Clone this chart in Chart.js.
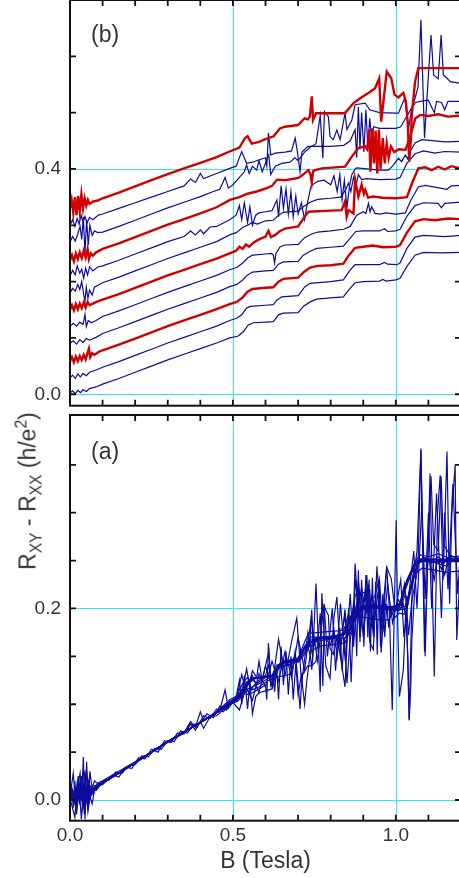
<!DOCTYPE html>
<html>
<head>
<meta charset="utf-8">
<script src="https://cdn.jsdelivr.net/npm/chart.js@4.4.1/dist/chart.umd.min.js"></script>
<style>
  html, body { margin: 0; padding: 0; background: #fff; overflow: hidden; }
  body { width: 459px; height: 878px; position: relative; font-family: "Liberation Sans", Arial, sans-serif; color: #333; }
  #top-wrap { position: absolute; left: 0; top: -2px; width: 462px; height: 410px; }
  #bottom-wrap { position: absolute; left: 0; top: 405px; width: 462px; height: 473px; }
  .panel-tag { position: absolute; left: 91px; font-size: 23px; line-height: 1; }
  #y-title { position: absolute; left: 28px; top: 491px; transform: translate(-50%, -50%) rotate(-90deg); white-space: nowrap; font-size: 23px; line-height: 1; }
  #y-title sub, #y-title sup { font-size: 68%; line-height: 0; }
</style>
</head>
<body>
<div id="top-wrap"><canvas id="chart-b" width="462" height="410"></canvas></div>
<div id="bottom-wrap"><canvas id="chart-a" width="462" height="473"></canvas></div>
<div class="panel-tag" style="top:23px">(b)</div>
<div class="panel-tag" style="top:440px">(a)</div>
<div id="y-title">R<sub>XY</sub> - R<sub>XX</sub> (h/e<sup>2</sup>)</div>
<script>
// B (Tesla) vs value as plotted in panel (b); panel (a) is the same data without the offsets
const traceOffsets = [0, 0.03, 0.06, 0.09, 0.12, 0.15, 0.18, 0.21, 0.24, 0.27, 0.30, 0.33];
const traceIsRed = [false, false, true, false, false, true, false, false, true, false, false, true];

const trace00 = [[0,.002],[.008,.006],[.016,.001],[.024,.007],[.032,.003],[.04,.008],[.05,.005],[.06,.01],[.08,.013],[.1,.018],[.15,.028],[.2,.039],[.25,.05],[.3,.061],[.35,.071],[.4,.081],[.45,.091],[.49,.1],[.515,.103],[.532,.111],[.547,.123],[.563,.127],[.6,.128],[.624,.129],[.64,.141],[.655,.144],[.7,.145],[.716,.156],[.737,.164],[.757,.169],[.8,.171],[.839,.173],[.855,.185],[.875,.198],[.9,.2],[.95,.201],[.96,.204],[.97,.201],[1.0,.203],[1.013,.206],[1.034,.227],[1.059,.247],[1.085,.252],[1.14,.251],[1.2,.252]];
const trace01 = [[0,.029],[.008,.034],[.016,.028],[.024,.036],[.032,.031],[.04,.037],[.05,.033],[.06,.039],[.08,.043],[.1,.048],[.15,.058],[.2,.069],[.25,.08],[.3,.091],[.35,.101],[.4,.111],[.45,.121],[.49,.131],[.512,.135],[.527,.141],[.542,.153],[.553,.156],[.6,.158],[.624,.159],[.635,.167],[.65,.173],[.7,.175],[.721,.191],[.737,.197],[.8,.2],[.839,.203],[.86,.221],[.875,.23],[.95,.23],[.965,.234],[.975,.231],[1.003,.23],[1.013,.233],[1.034,.259],[1.059,.279],[1.085,.282],[1.15,.28],[1.2,.282]];
const trace02 = [[0,.058],[.006,.066],[.012,.057],[.018,.067],[.024,.059],[.03,.068],[.036,.061],[.042,.07],[.048,.062],[.054,.074],[.058,.081],[.062,.066],[.068,.073],[.075,.07],[.09,.076],[.1,.078],[.15,.088],[.2,.099],[.25,.11],[.3,.121],[.35,.131],[.4,.141],[.45,.151],[.49,.16],[.512,.164],[.53,.172],[.545,.182],[.56,.187],[.6,.189],[.624,.19],[.64,.2],[.655,.205],[.7,.207],[.72,.218],[.737,.225],[.76,.228],[.8,.229],[.839,.232],[.855,.246],[.875,.26],[.9,.262],[.93,.264],[.96,.261],[1.0,.262],[1.013,.265],[1.034,.287],[1.059,.307],[1.085,.311],[1.12,.309],[1.16,.312],[1.2,.311]];
const trace03 = [[0,.09],[.01,.095],[.02,.089],[.03,.097],[.04,.092],[.05,.099],[.06,.096],[.08,.101],[.1,.108],[.15,.118],[.2,.129],[.25,.14],[.3,.151],[.35,.161],[.4,.171],[.45,.181],[.49,.191],[.512,.195],[.53,.203],[.545,.212],[.56,.217],[.6,.219],[.624,.22],[.64,.231],[.655,.235],[.7,.236],[.716,.247],[.737,.254],[.757,.259],[.8,.261],[.839,.263],[.857,.275],[.877,.289],[.9,.29],[.95,.29],[.965,.294],[.975,.289],[1.0,.29],[1.013,.293],[1.034,.316],[1.059,.335],[1.085,.34],[1.13,.339],[1.14,.331],[1.15,.339],[1.2,.341]];
const trace04 = [[0,.12],[.01,.126],[.02,.121],[.03,.128],[.04,.124],[.046,.142],[.05,.12],[.056,.131],[.065,.127],[.08,.131],[.1,.138],[.15,.148],[.2,.159],[.25,.17],[.3,.181],[.35,.191],[.4,.201],[.45,.211],[.49,.221],[.512,.225],[.53,.233],[.545,.242],[.56,.247],[.6,.249],[.618,.25],[.624,.247],[.628,.233],[.632,.25],[.645,.262],[.66,.265],[.7,.266],[.72,.278],[.74,.284],[.76,.288],[.8,.29],[.84,.293],[.86,.298],[.88,.318],[.9,.324],[.908,.321],[.916,.339],[.921,.324],[.926,.333],[.936,.321],[.952,.32],[.97,.322],[1.0,.32],[1.029,.322],[1.045,.343],[1.069,.368],[1.09,.371],[1.157,.364],[1.17,.37],[1.2,.371]];
const trace05 = [[0,.15],[.006,.158],[.012,.149],[.018,.16],[.024,.151],[.03,.161],[.036,.153],[.042,.163],[.048,.154],[.054,.164],[.06,.158],[.07,.161],[.085,.165],[.1,.168],[.15,.178],[.2,.189],[.25,.2],[.3,.211],[.35,.221],[.4,.231],[.45,.241],[.49,.25],[.51,.255],[.52,.262],[.53,.258],[.54,.266],[.55,.262],[.565,.27],[.58,.275],[.6,.28],[.609,.29],[.617,.279],[.63,.283],[.645,.29],[.66,.294],[.7,.298],[.72,.315],[.732,.324],[.8,.326],[.834,.327],[.844,.342],[.849,.315],[.855,.327],[.87,.321],[.875,.381],[.885,.351],[.895,.372],[.902,.356],[.906,.363],[.915,.349],[.93,.351],[.96,.349],[1.0,.348],[1.034,.35],[1.05,.375],[1.069,.401],[1.09,.403],[1.11,.398],[1.13,.404],[1.15,.399],[1.17,.405],[1.2,.401]];
const trace06 = [[0,.18],[.008,.188],[.016,.183],[.024,.195],[.03,.186],[.036,.2],[.042,.178],[.046,.165],[.05,.19],[.055,.17],[.06,.185],[.068,.176],[.075,.19],[.09,.195],[.1,.198],[.15,.208],[.2,.219],[.25,.23],[.3,.241],[.35,.251],[.4,.261],[.45,.271],[.49,.283],[.51,.287],[.53,.296],[.545,.3],[.56,.305],[.575,.302],[.6,.308],[.624,.309],[.64,.318],[.655,.323],[.7,.325],[.716,.333],[.737,.341],[.76,.346],[.8,.348],[.83,.35],[.845,.362],[.855,.375],[.862,.36],[.87,.385],[.878,.37],[.885,.39],[.895,.381],[.91,.383],[.95,.381],[1.0,.382],[1.013,.385],[1.034,.41],[1.059,.427],[1.085,.432],[1.12,.428],[1.15,.431],[1.2,.43]];
const trace07 = [[0,.21],[.008,.22],[.016,.212],[.022,.228],[.03,.215],[.036,.222],[.042,.206],[.048,.224],[.054,.212],[.06,.226],[.07,.219],[.085,.226],[.1,.228],[.15,.238],[.2,.249],[.25,.26],[.3,.271],[.35,.28],[.37,.29],[.385,.283],[.4,.292],[.41,.285],[.43,.297],[.45,.298],[.49,.31],[.51,.318],[.52,.335],[.527,.31],[.535,.34],[.545,.305],[.552,.333],[.56,.3],[.57,.318],[.58,.322],[.6,.324],[.62,.326],[.635,.345],[.64,.315],[.648,.37],[.655,.33],[.663,.365],[.67,.32],[.678,.36],[.685,.315],[.693,.352],[.7,.32],[.71,.34],[.72,.31],[.727,.335],[.74,.37],[.76,.378],[.78,.38],[.8,.372],[.81,.388],[.82,.36],[.828,.39],[.835,.345],[.842,.38],[.85,.332],[.858,.37],[.865,.39],[.875,.4],[.88,.402],[.95,.398],[.977,.398],[.99,.405],[1.008,.419],[1.018,.413],[1.029,.425],[1.036,.418],[1.044,.431],[1.059,.446],[1.08,.452],[1.12,.45],[1.15,.448],[1.2,.449]];
const trace08 = [[0,.238],[.006,.247],[.012,.236],[.018,.25],[.024,.24],[.03,.252],[.036,.242],[.042,.255],[.048,.243],[.054,.258],[.058,.24],[.064,.25],[.07,.246],[.08,.252],[.1,.258],[.15,.268],[.2,.279],[.25,.29],[.3,.301],[.35,.311],[.4,.321],[.45,.332],[.491,.345],[.52,.35],[.545,.356],[.573,.36],[.604,.366],[.62,.37],[.635,.381],[.66,.38],[.701,.384],[.715,.39],[.732,.398],[.738,.39],[.742,.376],[.746,.396],[.752,.398],[.773,.401],[.844,.404],[.865,.422],[.885,.437],[.906,.44],[.912,.435],[.918,.47],[.922,.395],[.928,.472],[.933,.41],[.938,.468],[.943,.392],[.948,.47],[.953,.4],[.96,.455],[.966,.41],[.972,.445],[.978,.42],[.985,.44],[.995,.43],[1.01,.435],[1.03,.434],[1.045,.46],[1.06,.49],[1.075,.496],[1.1,.494],[1.13,.497],[1.16,.493],[1.2,.495]];
const trace09 = [[0,.27],[.008,.28],[.016,.272],[.024,.285],[.031,.298],[.036,.275],[.041,.315],[.046,.25],[.051,.31],[.056,.265],[.061,.3],[.068,.282],[.075,.29],[.085,.287],[.1,.288],[.15,.298],[.2,.309],[.25,.32],[.3,.331],[.35,.341],[.4,.351],[.44,.36],[.46,.364],[.476,.385],[.486,.366],[.5,.372],[.52,.385],[.535,.395],[.542,.407],[.55,.392],[.56,.405],[.573,.398],[.58,.415],[.59,.395],[.6,.41],[.61,.425],[.616,.39],[.63,.405],[.65,.41],[.675,.412],[.69,.42],[.7,.415],[.72,.43],[.74,.44],[.8,.44],[.84,.442],[.86,.45],[.875,.47],[.88,.42],[.885,.51],[.89,.435],[.895,.5],[.902,.43],[.908,.505],[.914,.44],[.92,.49],[.926,.45],[.932,.475],[.95,.472],[1.0,.472],[1.015,.475],[1.03,.49],[1.045,.505],[1.06,.518],[1.075,.52],[1.1,.522],[1.118,.5],[1.125,.52],[1.14,.518],[1.15,.505],[1.16,.52],[1.2,.52]];
const trace10 = [[0,.3],[.008,.31],[.015,.298],[.022,.312],[.028,.302],[.034,.318],[.04,.305],[.046,.316],[.052,.304],[.06,.314],[.07,.31],[.087,.318],[.1,.32],[.15,.33],[.2,.34],[.25,.35],[.3,.36],[.35,.37],[.37,.382],[.385,.376],[.4,.392],[.41,.383],[.45,.392],[.49,.401],[.51,.405],[.527,.431],[.542,.41],[.56,.412],[.575,.415],[.6,.42],[.604,.405],[.609,.464],[.616,.425],[.63,.428],[.66,.43],[.68,.432],[.691,.455],[.698,.43],[.706,.395],[.712,.43],[.73,.44],[.742,.44],[.755,.445],[.768,.495],[.776,.419],[.781,.502],[.788,.496],[.793,.493],[.798,.458],[.808,.452],[.819,.469],[.829,.452],[.844,.499],[.85,.47],[.865,.487],[.875,.514],[.906,.517],[.92,.505],[.95,.5],[1.0,.499],[1.008,.499],[1.027,.526],[1.034,.496],[1.039,.472],[1.049,.508],[1.059,.526],[1.068,.545],[1.077,.665],[1.088,.455],[1.1,.567],[1.108,.638],[1.116,.567],[1.13,.56],[1.139,.638],[1.146,.567],[1.157,.561],[1.167,.555],[1.2,.552]];
const trace11 = [[0,.331],[.005,.345],[.01,.322],[.015,.35],[.02,.318],[.025,.352],[.03,.325],[.035,.355],[.04,.33],[.045,.348],[.05,.335],[.055,.345],[.06,.338],[.07,.342],[.085,.344],[.1,.348],[.15,.358],[.2,.369],[.25,.38],[.3,.391],[.35,.401],[.4,.411],[.45,.421],[.49,.431],[.52,.438],[.537,.455],[.545,.458],[.558,.445],[.58,.448],[.6,.453],[.625,.458],[.644,.472],[.66,.475],[.7,.478],[.72,.49],[.73,.488],[.736,.493],[.742,.529],[.746,.487],[.755,.499],[.8,.499],[.844,.499],[.87,.517],[.9,.529],[.916,.535],[.936,.543],[.949,.561],[.955,.484],[.962,.52],[.972,.573],[.986,.561],[.996,.532],[1.008,.527],[1.023,.535],[1.031,.52],[1.037,.478],[1.041,.413],[1.046,.45],[1.049,.496],[1.059,.555],[1.069,.579],[1.1,.579],[1.2,.579]];

// sweeps that only appear in panel (a), no offset
const extraA1 = [[0,.002],[.015,-.018],[.025,.025],[.035,-.02],[.045,.03],[.055,-.012],[.065,.012],[.08,.01],[.1,.019],[.12,.021],[.14,.029],[.16,.028],[.18,.036],[.2,.037],[.22,.046],[.24,.045],[.26,.054],[.28,.053],[.3,.062],[.32,.061],[.34,.072],[.36,.07],[.38,.079],[.4,.08],[.42,.09],[.44,.086],[.46,.098],[.48,.094],[.5,.103],[.53,.108],[.56,.13],[.58,.112],[.6,.14],[.62,.118],[.64,.168],[.66,.13],[.68,.165],[.696,.19],[.711,.122],[.73,.175],[.745,.15],[.755,.226],[.768,.113],[.773,.216],[.785,.14],[.798,.127],[.81,.19],[.819,.212],[.83,.15],[.844,.118],[.855,.2],[.863,.123],[.875,.247],[.89,.17],[.911,.235],[.92,.165],[.931,.157],[.942,.244],[.955,.18],[.972,.244],[.98,.2],[.989,.094],[1.001,.292],[1.006,.18],[1.011,.108],[1.023,.136],[1.032,.21],[1.041,.084],[1.05,.22],[1.065,.26],[1.077,.367],[1.085,.23],[1.09,.15],[1.1,.28],[1.105,.341],[1.112,.22],[1.118,.129],[1.128,.3],[1.136,.339],[1.145,.23],[1.157,.364],[1.165,.205],[1.172,.3],[1.182,.35],[1.187,.167],[1.2,.26]];
const extraA2 = [[0,.004],[.01,.028],[.02,-.015],[.03,.018],[.04,-.01],[.05,.032],[.06,0],[.075,.015],[.1,.016],[.13,.026],[.15,.024],[.17,.034],[.19,.033],[.21,.044],[.23,.043],[.25,.053],[.27,.05],[.29,.062],[.31,.06],[.33,.07],[.35,.069],[.37,.079],[.39,.076],[.41,.088],[.43,.085],[.45,.095],[.47,.092],[.5,.102],[.52,.094],[.54,.118],[.56,.104],[.58,.132],[.6,.118],[.62,.145],[.64,.124],[.66,.155],[.68,.128],[.7,.17],[.72,.135],[.74,.19],[.76,.145],[.78,.205],[.79,.15],[.805,.2],[.815,.135],[.83,.205],[.845,.145],[.86,.215],[.87,.16],[.885,.23],[.9,.17],[.915,.225],[.93,.175],[.95,.23],[.96,.175],[.975,.225],[.99,.185],[1.0,.2],[1.015,.23],[1.025,.17],[1.04,.215],[1.055,.26],[1.065,.2],[1.08,.31],[1.09,.21],[1.1,.3],[1.11,.2],[1.125,.32],[1.14,.19],[1.15,.3],[1.16,.22],[1.175,.33],[1.19,.215],[1.2,.27]];

const traces = [trace00, trace01, trace02, trace03, trace04, trace05, trace06, trace07, trace08, trace09, trace10, trace11];
const extraTracesA = [extraA1, extraA2];

// axis ticks (inward marks) and labelled values
const xTickMarks = [0.1, 0.2, 0.3, 0.4, 0.5, 0.6, 0.7, 0.8, 0.9, 1.0, 1.1];
const xTickLabels = [0, 0.5, 1.0];
const yTickMarksB = [0, 0.1, 0.2, 0.3, 0.4, 0.5, 0.6];
const yTickLabelsB = [0, 0.4];
const yTickMarksA = [0, 0.05, 0.1, 0.15, 0.2, 0.25, 0.3, 0.35];
const yTickLabelsA = [0, 0.2];

const BLUE = '#0c0c9e';
const RED = '#d00000';
const CYAN = '#2ee8f5';
const INK = '#333333';
const FONT = '"Liberation Sans", Arial, sans-serif';

const boxPlugin = {
  id: 'box',
  beforeDatasetsDraw(chart, args, opts) {
    const { ctx, chartArea: a, scales: { x, y } } = chart;
    ctx.save();
    ctx.strokeStyle = CYAN;
    ctx.lineWidth = 1;
    ctx.beginPath();
    for (const v of opts.xGrid) {
      const px = Math.round(x.getPixelForValue(v)) + 0.5;
      ctx.moveTo(px, a.top); ctx.lineTo(px, a.bottom);
    }
    for (const v of opts.yGrid) {
      const py = Math.round(y.getPixelForValue(v)) + 0.5;
      ctx.moveTo(a.left, py); ctx.lineTo(a.right, py);
    }
    ctx.stroke();
    ctx.restore();
  },
  afterDatasetsDraw(chart, args, opts) {
    const { ctx, chartArea: a, scales: { x, y } } = chart;
    const len = 6;
    ctx.save();
    ctx.strokeStyle = '#111';
    ctx.lineWidth = 1.8;
    ctx.beginPath();
    for (const v of opts.xTicks) {
      const px = x.getPixelForValue(v);
      ctx.moveTo(px, a.bottom); ctx.lineTo(px, a.bottom - len);
      ctx.moveTo(px, a.top); ctx.lineTo(px, a.top + len);
    }
    for (const v of opts.yTicks) {
      const py = y.getPixelForValue(v);
      ctx.moveTo(a.left, py); ctx.lineTo(a.left + len, py);
      ctx.moveTo(a.right, py); ctx.lineTo(a.right - len, py);
    }
    ctx.stroke();
    ctx.lineWidth = 2;
    ctx.strokeRect(a.left, a.top, a.right - a.left, a.bottom - a.top);
    ctx.restore();
  }
};

function lineSet(points, color, width, order) {
  return {
    data: points.map(p => ({ x: p[0], y: p[1] })),
    borderColor: color,
    borderWidth: width,
    pointRadius: 0,
    tension: 0,
    order: order
  };
}

function datasetsB() {
  return traces.map((tr, i) => traceIsRed[i]
    ? lineSet(tr, RED, 2.4, 0)
    : lineSet(tr, BLUE, 1.2, 1));
}

function datasetsA() {
  const raw = traces.map((tr, i) => tr.map(p => [p[0], +(p[1] - traceOffsets[i]).toFixed(4)]));
  return raw.concat(extraTracesA).map(tr => lineSet(tr, BLUE, 1.2, 1));
}

function fixedTicks(values) {
  return s => { s.ticks = values.map(v => ({ value: v })); };
}

function makeChart(canvas, cfg) {
  return new Chart(canvas, {
    type: 'line',
    data: { datasets: cfg.datasets },
    plugins: [boxPlugin],
    options: {
      responsive: false,
      animation: false,
      devicePixelRatio: 1,
      layout: { padding: cfg.padding, autoPadding: false },
      plugins: {
        legend: { display: false },
        tooltip: { enabled: false },
        box: { xGrid: [0.5, 1.0], yGrid: cfg.yGrid, xTicks: xTickMarks, yTicks: cfg.yTicks }
      },
      scales: {
        x: {
          type: 'linear', min: 0, max: 1.2,
          grid: { display: false, drawTicks: false },
          border: { display: false },
          afterBuildTicks: fixedTicks(xTickLabels),
          afterFit: s => { s.height = cfg.xHeight; s.paddingLeft = 0; s.paddingRight = 0; },
          ticks: {
            display: cfg.xLabels, padding: 4, color: INK, maxRotation: 0,
            font: { family: FONT, size: 19 },
            callback: v => v.toFixed(1)
          },
          title: {
            display: cfg.xLabels, text: 'B (Tesla)', color: INK,
            font: { family: FONT, size: 23 }, padding: { top: 0, bottom: 3 }
          }
        },
        y: {
          type: 'linear', min: cfg.yMin, max: cfg.yMax,
          grid: { display: false, drawTicks: false },
          border: { display: false },
          afterBuildTicks: fixedTicks(cfg.yLabels),
          afterFit: s => { s.width = 70; s.paddingTop = 0; s.paddingBottom = 0; },
          ticks: {
            padding: 9, color: INK,
            font: { family: FONT, size: 19 },
            callback: v => v.toFixed(1)
          }
        }
      }
    }
  });
}

makeChart(document.getElementById('chart-b'), {
  datasets: datasetsB(),
  padding: { top: 2, right: 1, left: 0, bottom: 0 },
  xHeight: 2.3, xLabels: false,
  yMin: -0.0203, yMax: 0.7,
  yGrid: [0, 0.4], yTicks: yTickMarksB, yLabels: yTickLabelsB
});

makeChart(document.getElementById('chart-a'), {
  datasets: datasetsA(),
  padding: { top: 10, right: 1, left: 0, bottom: 0 },
  xHeight: 57.3, xLabels: true,
  yMin: -0.0216, yMax: 0.402,
  yGrid: [0, 0.2], yTicks: yTickMarksA, yLabels: yTickLabelsA
});
</script>
</body>
</html>
